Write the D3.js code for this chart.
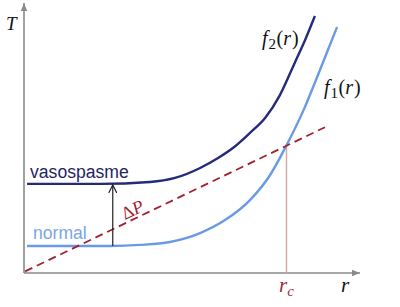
<!DOCTYPE html>
<html><head><meta charset="utf-8">
<script src="https://cdn.jsdelivr.net/npm/d3@7"></script>
<style>html,body{margin:0;padding:0;background:#fff;}svg{display:block;}</style>
</head><body>
<svg id="c" width="400" height="307"></svg>
<script>
// ---- data (abstract units: r horizontal, T vertical) ----
const f1R = [0.11, 1.29, 3.07, 4.14, 5.21, 6.29, 7.18, 8.07, 8.79, 9.36, 10.0, 10.57, 11.18];
const f1T = [1.0, 1.0, 1.0, 1.04, 1.15, 1.48, 1.96, 2.70, 3.63, 4.70, 6.07, 7.52, 9.11];
const f2R = [0.11, 2.71, 4.5, 5.39, 6.29, 6.93, 7.46, 8.07, 8.61, 9.14, 9.68, 10.04, 10.39];
const f2T = [3.30, 3.30, 3.37, 3.52, 3.89, 4.26, 4.63, 5.19, 5.74, 6.59, 7.81, 8.63, 9.52];
const dpR = [0.04, 10.75];
const dpT = [0.06, 5.40];
const rc = 9.375, rcT = 4.72;
const arrowR = 3.17, arrowFrom = 1.0, arrowTo = 3.30;
const seriesLabels = ["vasospasme", "normal"];

const svg = d3.select("#c");
const x = d3.scaleLinear().domain([0, 12]).range([24, 360]);
const y = d3.scaleLinear().domain([0, 10]).range([273, 3]);

const defs = svg.append("defs");
defs.append("marker").attr("id","axArrow").attr("viewBox","0 0 10 10").attr("refX",10).attr("refY",5)
  .attr("markerWidth",8).attr("markerHeight",8).attr("markerUnits","userSpaceOnUse").attr("orient","auto")
  .append("path").attr("d","M0,1 L10,5 L0,9 Z").attr("fill","#8a8a8a");
defs.append("marker").attr("id","blkArrow").attr("viewBox","0 0 10 10").attr("refX",9).attr("refY",5)
  .attr("markerWidth",9).attr("markerHeight",9).attr("markerUnits","userSpaceOnUse").attr("orient","auto")
  .append("path").attr("d","M0,0.5 L9,5 L0,9.5").attr("fill","none").attr("stroke","#222").attr("stroke-width",1.3);

// axes
svg.append("line").attr("x1", x(0)).attr("y1", y(0)).attr("x2", x(12)).attr("y2", y(0))
  .attr("stroke","#8a8a8a").attr("stroke-width",1.6).attr("marker-end","url(#axArrow)");
svg.append("line").attr("x1", x(0)).attr("y1", y(0)).attr("x2", x(0)).attr("y2", y(10))
  .attr("stroke","#8a8a8a").attr("stroke-width",1.6).attr("marker-end","url(#axArrow)");

// rc vertical
svg.append("line").attr("x1", x(rc)).attr("x2", x(rc)).attr("y1", y(0)).attr("y2", y(rcT))
  .attr("stroke","#d4a3a3").attr("stroke-width",1.4);

const line = d3.line().x(d => x(d[0])).y(d => y(d[1])).curve(d3.curveMonotoneX);
const f1 = f1R.map((r,i) => [r, f1T[i]]);
const f2 = f2R.map((r,i) => [r, f2T[i]]);

svg.append("path").attr("d", line(f1)).attr("fill","none").attr("stroke","#6a9be2").attr("stroke-width",2.4);
svg.append("path").attr("d", line(f2)).attr("fill","none").attr("stroke","#252b7a").attr("stroke-width",2.4);

// dashed ΔP line
svg.append("line").attr("x1", x(dpR[0])).attr("y1", y(dpT[0])).attr("x2", x(dpR[1])).attr("y2", y(dpT[1]))
  .attr("stroke","#a3202e").attr("stroke-width",1.8).attr("stroke-dasharray","8,5");

// arrow
svg.append("line").attr("x1", x(arrowR)).attr("x2", x(arrowR)).attr("y1", y(arrowFrom)).attr("y2", y(arrowTo)+1)
  .attr("stroke","#222").attr("stroke-width",1.2).attr("marker-end","url(#blkArrow)");

// labels
svg.append("text").attr("x", 30).attr("y", 178).text(seriesLabels[0])
  .attr("font-family","Liberation Sans, Arial, sans-serif").attr("font-size",17.6).attr("fill","#1f2566");
svg.append("text").attr("x", 33).attr("y", 238.5).text(seriesLabels[1])
  .attr("font-family","Liberation Sans, Arial, sans-serif").attr("font-size",17.6).attr("fill","#7aa6e6");

const serif = "Liberation Serif, 'Times New Roman', serif";
function fLabel(px, py, sub) {
  const t = svg.append("text").attr("x", px).attr("y", py).attr("font-family", serif).attr("font-size", 20).attr("fill","#111");
  t.append("tspan").attr("font-style","italic").text("f");
  t.append("tspan").attr("font-size",15).attr("dy",4).attr("dx",1).text(sub);
  t.append("tspan").attr("dy",-4).attr("dx",0.5).text("(");
  t.append("tspan").attr("font-style","italic").text("r");
  t.append("tspan").attr("dx",1).text(")");
}
fLabel(262, 45, "2");
fLabel(324, 94, "1");

svg.append("text").attr("x", 6).attr("y", 30).text("T").attr("font-family", serif)
  .attr("font-style","italic").attr("font-size",19).attr("fill","#111");
svg.append("text").attr("x", 341).attr("y", 292).text("r").attr("font-family", serif)
  .attr("font-style","italic").attr("font-size",21).attr("fill","#111");
const rcl = svg.append("text").attr("x", 279).attr("y", 292).attr("font-family", serif)
  .attr("font-style","italic").attr("font-size",21).attr("fill","#a0283a");
rcl.append("tspan").text("r");
rcl.append("tspan").attr("font-size",15).attr("dy",4).text("c");

const ang = Math.atan2(y(dpT[1]) - y(dpT[0]), x(dpR[1]) - x(dpR[0])) * 180 / Math.PI;
const dp = svg.append("text").attr("transform", `translate(125,220) rotate(${ang})`)
  .attr("font-family", serif).attr("font-size",18).attr("fill","#a3202e");
dp.append("tspan").text("Δ");
dp.append("tspan").attr("font-style","italic").text("P");
</script>
</body></html>
